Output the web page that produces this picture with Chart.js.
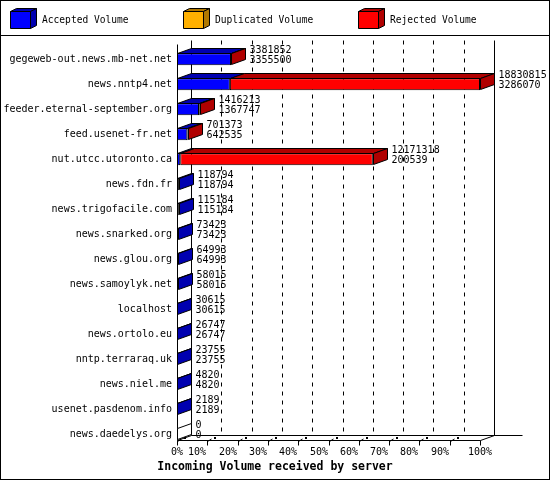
<!DOCTYPE html>
<html>
<head>
<meta charset="utf-8">
<style>
  html, body { margin: 0; padding: 0; background: #fff; }
  #wrap { width: 550px; height: 480px; }
</style>
<script src="https://cdn.jsdelivr.net/npm/chart.js@4.4.1/dist/chart.umd.min.js"></script>
</head>
<body>
<div id="wrap"><canvas id="c" width="550" height="480"></canvas></div>
<script>
// ---- data ----
const categories = [
  'gegeweb-out.news.mb-net.net', 'news.nntp4.net', 'feeder.eternal-september.org',
  'feed.usenet-fr.net', 'nut.utcc.utoronto.ca', 'news.fdn.fr', 'news.trigofacile.com',
  'news.snarked.org', 'news.glou.org', 'news.samoylyk.net', 'localhost', 'news.ortolo.eu',
  'nntp.terraraq.uk', 'news.niel.me', 'usenet.pasdenom.info', 'news.daedelys.org'
];
const totalVolume = [3381852, 18830815, 1416213, 701373, 12171318, 118794, 115184, 73423,
  64993, 58015, 30615, 26747, 23755, 4820, 2189, 0];
const acceptedVolume = [3355500, 3286070, 1367747, 642535, 200539, 118794, 115184, 73423,
  64993, 58015, 30615, 26747, 23755, 4820, 2189, 0];
const duplicatedVolume = [0, 0, 0, 0, 0, 0, 0, 0, 0, 0, 0, 0, 0, 0, 0, 0];
const rejectedVolume = [26352, 15544745, 48466, 58838, 11970779, 0, 0, 0, 0, 0, 0, 0, 0, 0, 0, 0];
const seriesNames = ['Accepted Volume', 'Duplicated Volume', 'Rejected Volume'];
const xTickLabels = ['0%', '10%', '20%', '30%', '40%', '50%', '60%', '70%', '80%', '90%', '100%'];
const axisTitle = 'Incoming Volume received by server';

// ---- styles ----
const FRONT = ['#0000ff', '#ffb000', '#ff0000'];
const DARK = ['#0000b0', '#b07800', '#b00000'];
const MONO = '"DejaVu Sans Mono", "Liberation Mono", monospace';
const DX = 14, DY = -5;
const xMax = Math.max(...totalVolume);

function poly(ctx, pts, fill) {
  ctx.beginPath();
  ctx.moveTo(pts[0][0], pts[0][1]);
  for (let i = 1; i < pts.length; i++) ctx.lineTo(pts[i][0], pts[i][1]);
  ctx.closePath();
  if (fill) { ctx.fillStyle = fill; ctx.fill(); }
  ctx.strokeStyle = '#000'; ctx.lineWidth = 1; ctx.stroke();
}
function line(ctx, x1, y1, x2, y2) {
  ctx.beginPath(); ctx.moveTo(x1, y1); ctx.lineTo(x2, y2); ctx.stroke();
}

const threeD = {
  id: 'threeD',
  beforeDatasetsDraw(chart) {
    const ctx = chart.ctx, ca = chart.chartArea;
    const xs = chart.scales.x;
    const front0 = Math.round(xs.getPixelForValue(0)) + 0.5;
    const front100 = Math.round(xs.getPixelForValue(xMax)) + 0.5;
    const floorF = Math.round(ca.bottom - 6.7) + 0.5;
    const floorB = floorF + DY;
    const topB = Math.round(ca.top - 6.7) + 0.5;
    const topF = topB + 4;
    ctx.save();
    ctx.strokeStyle = '#000'; ctx.lineWidth = 1;
    // dashed grid lines on back wall
    ctx.setLineDash([4, 5]);
    for (let i = 1; i < 10; i++) {
      const x = Math.round(xs.getPixelForValue(xMax * i / 10)) + DX + 0.5;
      line(ctx, x, topB, x, floorB);
    }
    ctx.setLineDash([]);
    // back walls
    line(ctx, front0 + DX, topB, front0 + DX, floorB);
    line(ctx, front100 + DX, topB, front100 + DX, floorB);
    // floor
    line(ctx, front0 + DX, floorB, front100 + DX + 28, floorB);
    line(ctx, front0, floorF, front100, floorF);
    line(ctx, front0, floorF, front0 + DX, floorB);
    line(ctx, front100, floorF, front100 + DX, floorB);
    // front left axis
    line(ctx, front0, topF, front0, floorF);
    // ticks
    for (let i = 0; i <= 10; i++) {
      const x = Math.round(xs.getPixelForValue(xMax * i / 10)) + 0.5;
      line(ctx, x, floorF, x, floorF + 5);
      if (i < 10) {
        line(ctx, x, floorF + 1, x + 4, floorF - 1.5);
        ctx.fillStyle = '#000';
        ctx.fillRect(x + 6.5, floorF - 3.5, 2, 2);
      }
    }
    ctx.restore();
  },
  afterDatasetsDraw(chart) {
    const ctx = chart.ctx;
    ctx.save();
    ctx.lineJoin = 'miter';
    const metas = chart.data.datasets.map((d, k) => chart.getDatasetMeta(k));
    for (let i = 0; i < categories.length; i++) {
      let lastK = -1, endX = null, top = null, bottom = null;
      for (let k = 0; k < metas.length; k++) {
        const el = metas[k].data[i];
        const p = el.getProps(['x', 'y', 'base', 'height'], true);
        const t = Math.round(p.y - p.height / 2) + 0.5;
        const b = Math.round(p.y + p.height / 2) - 0.5;
        top = t; bottom = b;
        const x0 = Math.round(Math.min(p.x, p.base)) + 0.5;
        const x1 = Math.round(Math.max(p.x, p.base)) + 0.5;
        if (endX === null) endX = x0;
        const v = chart.data.datasets[k].data[i];
        if (v > 0) {
          poly(ctx, [[x0, t], [x1, t], [x1 + DX, t + DY], [x0 + DX, t + DY]], DARK[k]);
          lastK = k; endX = x1;
        }
      }
      const sideFill = lastK >= 0 ? DARK[lastK] : '#ffffff';
      poly(ctx, [[endX, top], [endX + DX, top + DY], [endX + DX, bottom + DY], [endX, bottom]], sideFill);
      // value labels
      const cy = metas[0].data[i].y;
      ctx.fillStyle = '#000';
      ctx.font = '10px ' + MONO;
      ctx.textAlign = 'left';
      ctx.textBaseline = 'middle';
      ctx.fillText(String(totalVolume[i]), endX + DX + 4, cy - 9);
      ctx.fillText(String(acceptedVolume[i]), endX + DX + 4, cy + 1);
    }
    ctx.restore();
  },
  afterDraw(chart) {
    const ctx = chart.ctx, ca = chart.chartArea;
    const xs = chart.scales.x;
    ctx.save();
    // x tick labels
    ctx.fillStyle = '#000';
    ctx.font = '10px ' + MONO;
    ctx.textBaseline = 'middle';
    xTickLabels.forEach((lab, i) => {
      const x = Math.round(xs.getPixelForValue(xMax * i / 10));
      if (i === 0 || i === 10) { ctx.textAlign = 'center'; ctx.fillText(lab, x, ca.bottom + 5.5); }
      else { ctx.textAlign = 'right'; ctx.fillText(lab, x - 1, ca.bottom + 5.5); }
    });
    // legend
    const legendX = [10, 183, 358];
    chart.data.datasets.forEach((ds, k) => {
      const x = legendX[k] + 0.5, y = 11.5, w = 20, h = 17;
      poly(ctx, [[x, y], [x + w, y], [x + w + 6, y - 3], [x + 6, y - 3]], DARK[k]);
      poly(ctx, [[x + w, y], [x + w + 6, y - 3], [x + w + 6, y + h - 3], [x + w, y + h]], DARK[k]);
      poly(ctx, [[x, y], [x + w, y], [x + w, y + h], [x, y + h]], FRONT[k]);
      ctx.fillStyle = '#000';
      ctx.font = '9.6px ' + MONO;
      ctx.textAlign = 'left';
      ctx.textBaseline = 'middle';
      ctx.fillText(ds.label, legendX[k] + 32, 20);
    });
    // frame
    ctx.strokeStyle = '#000'; ctx.lineWidth = 1;
    ctx.strokeRect(0.5, 0.5, 549, 479);
    line(ctx, 0, 35.5, 550, 35.5);
    ctx.restore();
  }
};

const seriesValues = [acceptedVolume, duplicatedVolume, rejectedVolume];
new Chart(document.getElementById('c'), {
  type: 'bar',
  data: {
    labels: categories,
    datasets: seriesNames.map((name, k) => ({
      label: name,
      data: seriesValues[k],
      backgroundColor: FRONT[k],
      borderColor: '#000',
      borderWidth: 1,
      borderSkipped: false,
      barPercentage: 0.48,
      categoryPercentage: 1
    }))
  },
  options: {
    indexAxis: 'y',
    responsive: false,
    animation: false,
    devicePixelRatio: 1,
    layout: { padding: { top: 46.7, right: 0, bottom: 0, left: 0 } },
    plugins: {
      legend: { display: false },
      tooltip: { enabled: false },
      title: {
        display: true,
        position: 'bottom',
        text: axisTitle,
        color: '#000',
        font: { family: MONO, size: 11.5, weight: 'bold' },
        padding: { top: 0, bottom: 6 }
      }
    },
    scales: {
      x: {
        type: 'linear', stacked: true, min: 0, max: xMax,
        grid: { display: false }, border: { display: false },
        ticks: { display: false },
        afterFit: (s) => { s.height = 13.5; }
      },
      y: {
        type: 'category', stacked: true, offset: true,
        grid: { display: false, drawTicks: false }, border: { display: false },
        ticks: { color: '#000', padding: 5, font: { family: MONO, size: 10 } },
        afterFit: (s) => { s.width = 177; }
      },
      yRight: {
        type: 'category', position: 'right', offset: true,
        grid: { display: false, drawTicks: false }, border: { display: false },
        ticks: { display: false },
        afterFit: (s) => { s.width = 70; }
      }
    }
  },
  plugins: [threeD]
});
</script>
</body>
</html>
